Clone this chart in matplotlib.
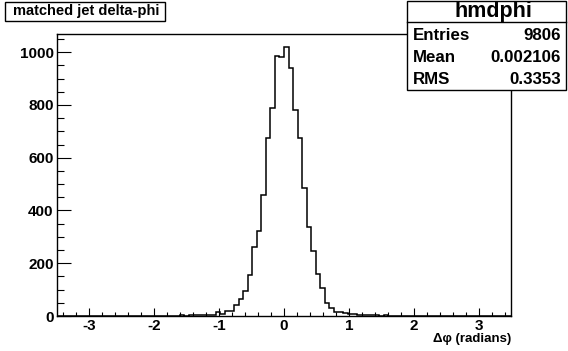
import numpy as np
import matplotlib
matplotlib.use("Agg")
import matplotlib.pyplot as plt
from matplotlib.patches import Rectangle
from matplotlib.lines import Line2D
from matplotlib.ticker import MultipleLocator

# ---- data ----
x_min, x_max, n_bins = -3.5, 3.5, 100
left_tail = [0, 0, 1, 0, 0, 0, 1, 0, 0, 0,
             0, 1, 0, 0, 1, 0, 0, 1, 0, 0,
             1, 0, 1, 0, 1, 1, 0, 2, 1, 2,
             2, 3, 2, 4, 5]
core = [14, 8, 19, 19,
        42, 64, 96, 155, 260, 322, 458, 673, 787, 986, 980,
        1018, 941, 779, 676, 486, 336, 246, 158, 105, 50, 29, 16, 16, 12]
right_tail = [8, 6, 5, 3, 4, 2, 3, 1, 2, 1,
              1, 0, 1, 1, 0, 1, 0, 0, 1, 0,
              0, 1, 0, 0, 1, 0, 0, 0, 1, 0,
              0, 1, 0, 0, 0, 0]
counts = np.array(left_tail + core + right_tail, dtype=float)
edges = np.linspace(x_min, x_max, n_bins + 1)

title_text = "matched jet delta-phi"
stats_name = "hmdphi"
stats_rows = [("Entries", "9806"), ("Mean", "0.002106"), ("RMS", "0.3353")]
xlabel = "Δφ (radians)"

W, H = 568, 351
plt.rcParams['font.family'] = ['Liberation Sans', 'DejaVu Sans']
plt.rcParams['axes.unicode_minus'] = False
fig = plt.figure(figsize=(W / 100, H / 100), dpi=100)

def fx(px):
    return px / W

def fy(py):
    return 1 - py / H

ax = fig.add_axes([fx(57), fy(316), fx(511) - fx(57), fy(34) - fy(316)])
ax.stairs(counts, edges, color='black', lw=1.1, baseline=0)
ax.set_xlim(x_min, x_max)
ax.set_ylim(0, counts.max() * 1.05)

for s in ax.spines.values():
    s.set_linewidth(1.0)

ax.xaxis.set_major_locator(MultipleLocator(1))
ax.xaxis.set_minor_locator(MultipleLocator(0.2))
ax.yaxis.set_major_locator(MultipleLocator(200))
ax.yaxis.set_minor_locator(MultipleLocator(50))
ax.tick_params(axis='x', which='major', direction='in', length=6.1, width=0.8,
               labelsize=11, pad=2, top=False)
ax.tick_params(axis='x', which='minor', direction='in', length=3.0, width=0.8, top=False)
ax.tick_params(axis='y', which='major', direction='in', length=9.8, width=0.8,
               labelsize=11, pad=2.5, right=False)
ax.tick_params(axis='y', which='minor', direction='in', length=4.9, width=0.8, right=False)
for lab in ax.get_xticklabels() + ax.get_yticklabels():
    lab.set_fontweight('bold')

ax.set_xlabel(xlabel, fontsize=9.5, fontweight='bold', loc='right', labelpad=0)

# title box
fig.add_artist(Rectangle((fx(5), fy(21)), fx(165) - fx(5), fy(2) - fy(21),
                         transform=fig.transFigure, facecolor='white',
                         edgecolor='black', lw=1.0))
fig.text(fx(86), fy(11.5), title_text, ha='center', va='center',
         fontsize=10.5, fontweight='bold')

# stats box
fig.add_artist(Rectangle((fx(407), fy(90)), fx(566) - fx(407), fy(1) - fy(90),
                         transform=fig.transFigure, facecolor='white',
                         edgecolor='black', lw=1.0, zorder=5))
fig.add_artist(Line2D([fx(407), fx(566)], [fy(22), fy(22)],
                      transform=fig.transFigure, color='black', lw=1.0, zorder=6))
fig.text(fx(493), fy(11.5), stats_name, ha='center', va='center',
         fontsize=15.5, fontweight='bold', zorder=7)
row_y = [35, 58, 80]
for (k, v), yy in zip(stats_rows, row_y):
    fig.text(fx(413), fy(yy), k, ha='left', va='center', fontsize=12.2,
             fontweight='bold', zorder=7)
    fig.text(fx(561), fy(yy), v, ha='right', va='center', fontsize=12.2,
             fontweight='bold', zorder=7)

fig.savefig("out.png", dpi=100, facecolor='white')
